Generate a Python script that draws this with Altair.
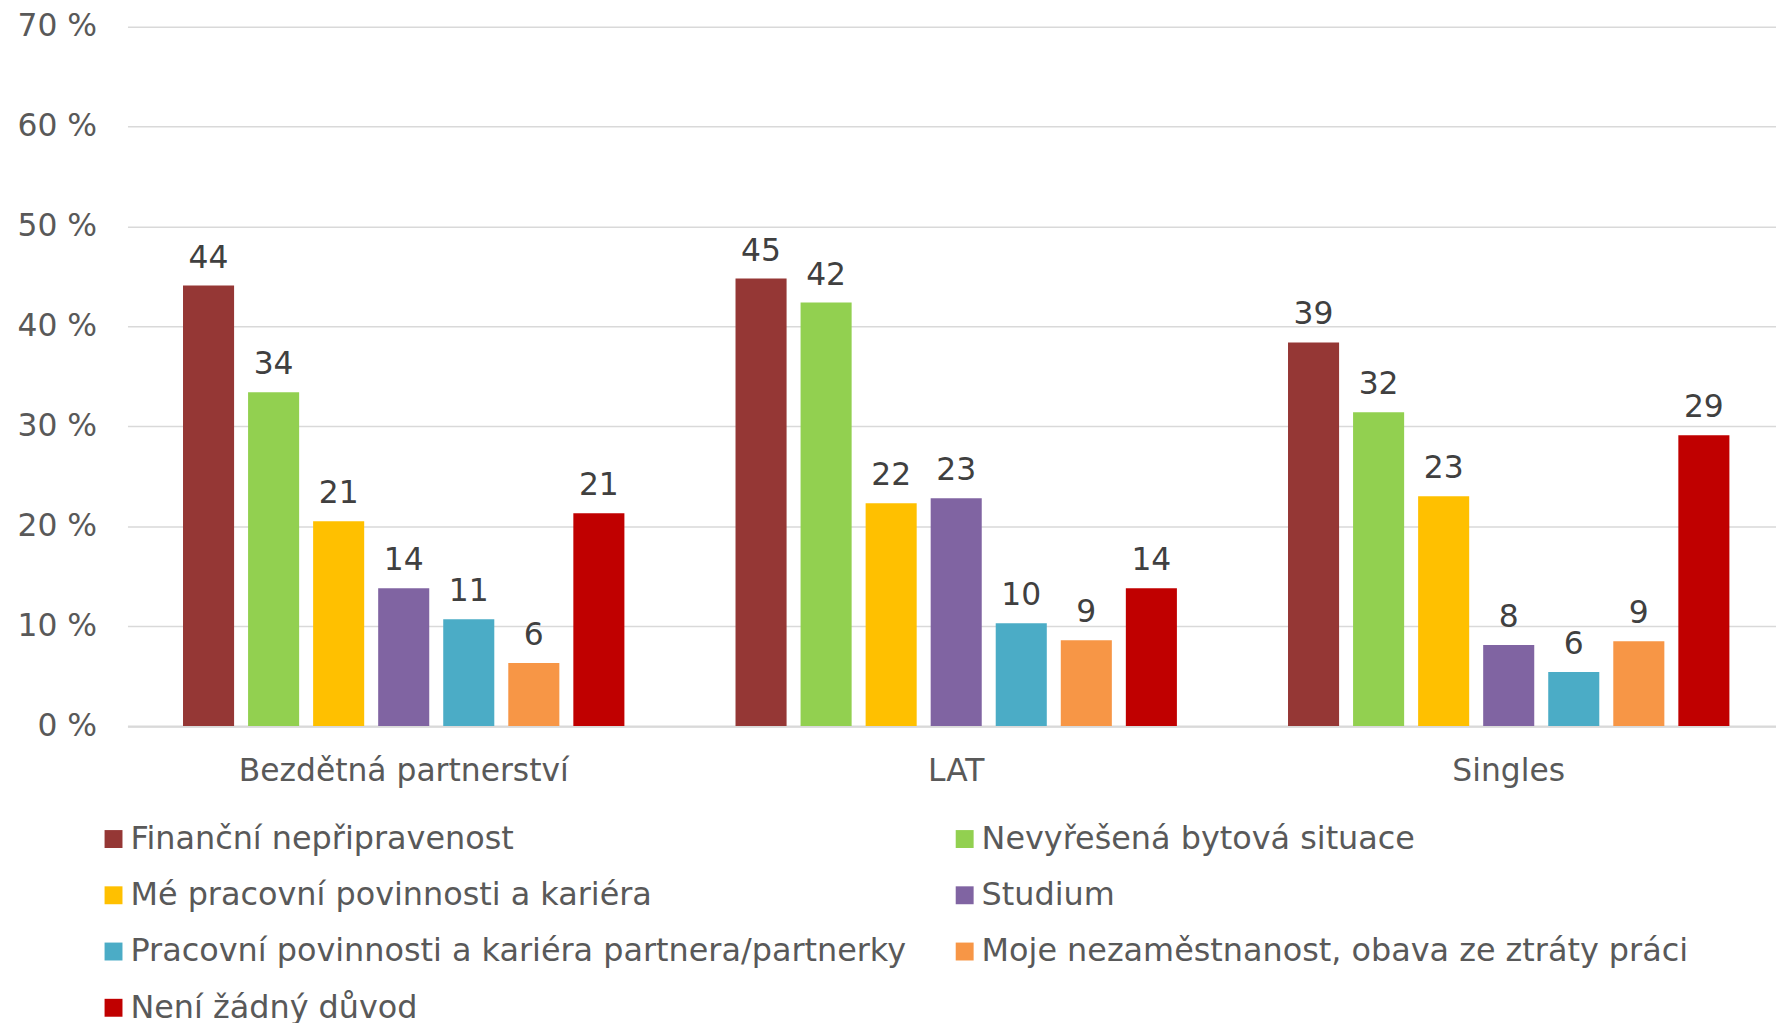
import altair as alt
import pandas as pd

categories = ["Bezdětná partnerství", "LAT", "Singles"]
series = [
    "Finanční nepřipravenost",
    "Nevyřešená bytová situace",
    "Mé pracovní povinnosti a kariéra",
    "Studium",
    "Pracovní povinnosti a kariéra partnera/partnerky",
    "Moje nezaměstnanost, obava ze ztráty práci",
    "Není žádný důvod",
]
colors = ["#953735", "#92D050", "#FFC000", "#8064A2", "#4BACC6", "#F79646", "#C00000"]

values_bezdetna = [44.1, 33.4, 20.5, 13.8, 10.7, 6.3, 21.3]
values_lat = [44.8, 42.4, 22.3, 22.8, 10.3, 8.6, 13.8]
values_singles = [38.4, 31.4, 23.0, 8.1, 5.4, 8.5, 29.1]

labels_bezdetna = ["44", "34", "21", "14", "11", "6", "21"]
labels_lat = ["45", "42", "22", "23", "10", "9", "14"]
labels_singles = ["39", "32", "23", "8", "6", "9", "29"]

y_ticks = [0, 10, 20, 30, 40, 50, 60, 70]

rows = []
for cat, vals, labs in zip(categories,
                           [values_bezdetna, values_lat, values_singles],
                           [labels_bezdetna, labels_lat, labels_singles]):
    for s, v, l in zip(series, vals, labs):
        rows.append({"kategorie": cat, "duvod": s, "hodnota": v, "popisek": l})
df = pd.DataFrame(rows)

FONT = "DejaVu Sans"
FS = 31.5

base = alt.Chart(df).encode(
    x=alt.X("kategorie:N", sort=categories, title=None,
            scale=alt.Scale(paddingInner=0, paddingOuter=0, range=[0, 1665]),
            axis=alt.Axis(labelAngle=0, ticks=False, domain=True, grid=False,
                          domainColor="#d9d9d9", domainWidth=2,
                          labelFontSize=FS, labelColor="#595959",
                          labelBaseline="alphabetic", labelPadding=55,
                          labelLimit=2000, labelFont=FONT)),
    xOffset=alt.XOffset("duvod:N", sort=series,
                        scale=alt.Scale(paddingInner=0.215, paddingOuter=0.854)),
    y=alt.Y("hodnota:Q", title=None,
            scale=alt.Scale(domain=[0, 70], nice=False),
            axis=alt.Axis(values=y_ticks, labelExpr="datum.value + ' %'",
                          ticks=False, domain=False, grid=True,
                          gridColor="#d9d9d9", gridWidth=1.5,
                          labelFontSize=FS, labelColor="#595959",
                          labelPadding=31, minExtent=115, maxExtent=115,
                          labelFont=FONT)),
)

bars = base.mark_bar().encode(
    color=alt.Color("duvod:N", sort=series, title=None,
                    scale=alt.Scale(domain=series, range=colors),
                    legend=alt.Legend(orient="none", legendX=-30, legendY=800,
                                      columns=2, direction="horizontal",
                                      symbolType="square", symbolSize=324,
                                      symbolStrokeWidth=0, symbolOpacity=1,
                                      labelFontSize=32, labelColor="#595959",
                                      labelFont=FONT, labelLimit=2000,
                                      labelOffset=1, columnPadding=42,
                                      rowPadding=24.5, padding=0))
)

text = base.mark_text(baseline="alphabetic", dy=-18, fontSize=FS,
                      color="#404040", font=FONT).encode(text="popisek:N")

chart = alt.layer(bars, text).properties(
    width=1656, height=702.5,
    autosize=alt.AutoSizeParams(type="none"),
    padding={"left": 120, "top": 16.5, "right": 0, "bottom": 296},
).configure(font=FONT).configure_view(strokeWidth=0, stroke="transparent")

chart.save("out.html", embed_options={"renderer": "svg", "actions": False})
